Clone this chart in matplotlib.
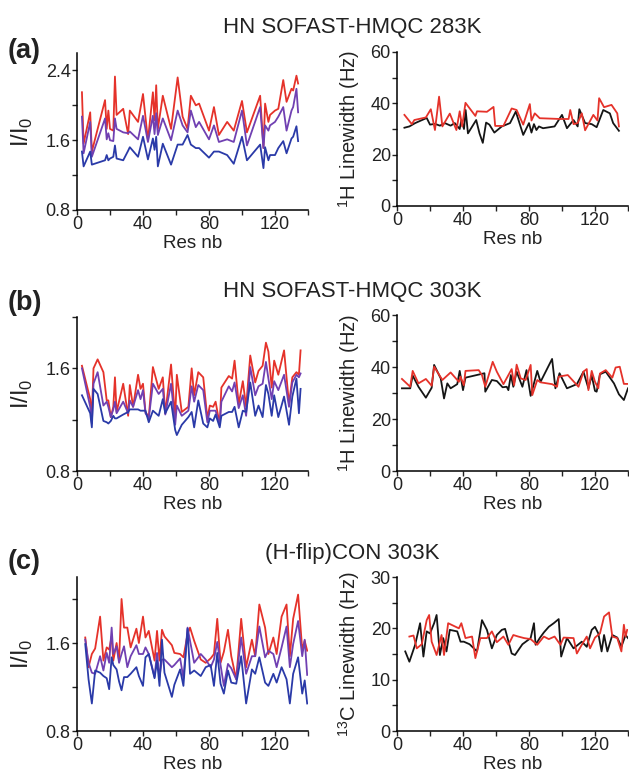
import numpy as np
import matplotlib
matplotlib.use('Agg')
import matplotlib.pyplot as plt
from matplotlib.ticker import FixedLocator

plt.rcParams['font.family'] = ['Liberation Sans', 'DejaVu Sans']
plt.rcParams['mathtext.fontset'] = 'custom'
plt.rcParams['mathtext.rm'] = 'Liberation Sans'

RED = '#e5322a'
PURPLE = '#7040b2'
BLUE = '#2a3aa8'
BLACK = '#151515'

# ---- panel (a): HN SOFAST-HMQC 283K ----
res_a = [3, 4, 8, 9, 17, 18, 19, 20, 22, 23, 24, 28, 31, 32, 37, 40, 43, 46, 47, 48,
         49, 52, 57, 61, 64, 67, 69, 72, 74, 80, 83, 86, 91, 95, 100, 103, 111, 113,
         114, 116, 117, 120, 122, 125, 127, 130, 131, 133, 134]
red_a = [2.15, 1.56, 1.92, 1.47, 2.06, 1.73, 1.94, 1.73, 1.71, 2.33, 1.89, 1.96, 1.67,
         1.94, 1.81, 2.13, 1.60, 2.15, 1.83, 2.23, 1.73, 2.11, 1.73, 2.32, 1.87, 1.73,
         2.11, 2.00, 2.02, 1.71, 1.98, 1.66, 1.81, 1.71, 2.05, 1.69, 2.11, 1.51, 2.02,
         1.81, 1.89, 1.94, 1.96, 2.29, 2.04, 2.19, 2.17, 2.34, 2.25]
purple_a = [1.87, 1.45, 1.81, 1.41, 1.85, 1.61, 1.68, 1.60, 1.59, 1.85, 1.73, 1.69, 1.68,
            1.70, 1.61, 1.88, 1.58, 1.88, 1.67, 1.91, 1.66, 1.85, 1.60, 1.94, 1.77, 1.69,
            1.94, 1.75, 1.81, 1.61, 1.77, 1.58, 1.61, 1.58, 1.94, 1.54, 1.98, 1.51, 1.77,
            1.71, 1.77, 1.81, 1.87, 1.98, 1.71, 1.94, 1.98, 2.19, 1.92]
blue_a = [1.47, 1.30, 1.47, 1.32, 1.37, 1.43, 1.37, 1.39, 1.41, 1.54, 1.39, 1.37, 1.48,
          1.52, 1.41, 1.64, 1.38, 1.62, 1.49, 1.64, 1.30, 1.56, 1.32, 1.55, 1.55, 1.66,
          1.55, 1.51, 1.51, 1.40, 1.47, 1.47, 1.43, 1.33, 1.64, 1.37, 1.55, 1.28, 1.52,
          1.37, 1.43, 1.43, 1.51, 1.59, 1.45, 1.62, 1.64, 1.76, 1.59]

lw_res_a_black = [4.5, 7.5, 11, 18, 20, 23, 26, 29, 32.5, 35, 38, 39, 40.6, 41.6, 43, 48,
                  50, 52, 54, 56, 59, 63.5, 68.5, 72, 76.5, 80, 81.5, 83, 84.5, 86, 88.5,
                  95.5, 100, 103, 107, 109.5, 110.5, 114, 118, 121, 125, 129, 131, 134.5]
lw_a_black = [30.5, 31.0, 32.3, 34.3, 31.7, 32.0, 31.3, 32.3, 31.3, 32.3, 30.0, 33.5, 30.0,
              37.4, 28.3, 33.5, 28.3, 24.6, 32.5, 31.7, 28.6, 31.0, 32.3, 36.8, 27.7, 32.3,
              28.6, 31.9, 29.6, 31.0, 30.3, 31.0, 35.5, 30.3, 33.5, 31.0, 37.7, 32.3, 31.9,
              30.7, 37.4, 36.1, 32.3, 29.3]
lw_res_a_red = [4.5, 9, 10.5, 17.5, 20.5, 23, 25.5, 27.5, 32, 36, 38, 39.5, 41.5, 47.5,
                48.5, 54.5, 58.5, 59.5, 64.5, 69.5, 72.5, 76.5, 80.5, 81.5, 83.5, 86.5,
                99, 104, 105, 107, 109.5, 112, 114, 119, 121.5, 122.5, 125.5, 130, 133.5,
                134.5]
lw_a_red = [35.5, 31.9, 33.5, 34.5, 37.7, 29.6, 42.6, 31.0, 36.0, 29.6, 36.9, 31.0, 40.2,
            35.1, 36.9, 36.7, 38.6, 31.2, 31.2, 38.0, 37.4, 31.7, 39.7, 33.3, 36.1, 34.2,
            33.9, 33.9, 37.4, 31.9, 32.3, 36.1, 29.5, 35.5, 33.3, 42.0, 38.5, 39.4, 36.1,
            31.0]

# ---- panel (b): HN SOFAST-HMQC 303K ----
res_b = [3, 8, 9, 10, 12.5, 16, 18, 19, 20.5, 22, 23, 24, 28, 31, 32, 34, 37, 38.5, 40,
         41.5, 43.5, 46, 49.5, 52, 53.5, 57, 59.5, 60.5, 63.5, 67.5, 69.5, 71, 73.5, 76.5,
         79, 80.5, 82.5, 84, 86.5, 87.5, 92, 94, 95.5, 98, 100.5, 102.5, 105, 108, 110,
         112.5, 114.5, 116, 118, 119.5, 122, 125.5, 128.5, 130.5, 133, 134.5, 135.5]
red_b = [1.62, 1.36, 1.23, 1.60, 1.67, 1.57, 1.35, 1.35, 1.22, 1.30, 1.53, 1.26, 1.48,
         1.23, 1.47, 1.30, 1.55, 1.44, 1.48, 1.26, 1.22, 1.61, 1.44, 1.53, 1.25, 1.63,
         1.21, 1.55, 1.26, 1.30, 1.60, 1.39, 1.57, 1.53, 1.21, 1.31, 1.30, 1.34, 1.16,
         1.45, 1.54, 1.52, 1.66, 1.32, 1.50, 1.30, 1.70, 1.49, 1.58, 1.62, 1.80, 1.73,
         1.45, 1.66, 1.55, 1.74, 1.32, 1.53, 1.57, 1.55, 1.74]
purple_b = [1.60, 1.30, 1.17, 1.48, 1.57, 1.31, 1.34, 1.30, 1.22, 1.28, 1.34, 1.25, 1.34,
            1.25, 1.35, 1.30, 1.43, 1.36, 1.43, 1.25, 1.21, 1.48, 1.40, 1.44, 1.24, 1.48,
            1.16, 1.31, 1.23, 1.27, 1.46, 1.34, 1.47, 1.43, 1.18, 1.27, 1.27, 1.27, 1.16,
            1.34, 1.46, 1.42, 1.49, 1.29, 1.39, 1.23, 1.61, 1.39, 1.46, 1.48, 1.65, 1.52,
            1.36, 1.50, 1.43, 1.55, 1.30, 1.49, 1.55, 1.53, 1.56]
blue_b = [1.39, 1.25, 1.14, 1.44, 1.40, 1.19, 1.18, 1.17, 1.19, 1.23, 1.21, 1.21, 1.24,
          1.26, 1.28, 1.28, 1.28, 1.27, 1.27, 1.27, 1.18, 1.27, 1.23, 1.36, 1.25, 1.34,
          1.12, 1.08, 1.16, 1.22, 1.26, 1.14, 1.35, 1.17, 1.14, 1.21, 1.19, 1.24, 1.14,
          1.23, 1.26, 1.26, 1.30, 1.14, 1.27, 1.26, 1.49, 1.23, 1.31, 1.22, 1.47, 1.40,
          1.23, 1.39, 1.22, 1.38, 1.16, 1.38, 1.52, 1.25, 1.44]

lw_res_b_black = [3, 8, 9.5, 13, 17.5, 21, 22.5, 26.5, 28.5, 30.5, 32.5, 36.5, 38, 40, 41.5,
                  53, 53.5, 57.5, 60.5, 64, 66.5, 67.5, 69, 70.5, 72.5, 76, 78.5, 81, 83,
                  85, 87, 94, 96, 98.5, 103, 109, 113, 116, 118, 120, 121, 123, 126.5,
                  131.5, 134.5, 137.5, 140]
lw_b_black = [31.8, 31.8, 36.7, 32.4, 28.2, 32.0, 40.8, 35.6, 27.9, 33.7, 31.8, 33.4, 38.5,
              31.1, 35.9, 37.6, 30.5, 35.0, 34.6, 32.2, 32.4, 31.1, 36.9, 32.4, 38.2, 32.4,
              38.8, 28.9, 33.7, 38.5, 34.3, 43.1, 31.8, 37.6, 31.8, 33.4, 38.2, 31.8, 36.7,
              30.8, 30.5, 37.2, 38.2, 33.7, 29.5, 27.3, 31.8]
lw_res_b_red = [3, 8, 9.5, 13, 17.5, 21, 22.5, 27.5, 32.5, 37.5, 38.5, 40.5, 41.5, 49.5,
                51.5, 53.5, 58, 60.5, 64.5, 69.5, 71, 72.5, 75, 78, 81, 82, 85, 87, 94, 97,
                98, 103.5, 110, 113, 115, 116, 118, 120, 122, 123, 126.5, 130.5, 132.5,
                135, 137.5, 140]
lw_b_red = [35.4, 32.4, 38.5, 33.7, 35.4, 32.8, 40.1, 35.0, 37.9, 34.3, 36.3, 33.0, 38.5,
            38.8, 36.9, 32.4, 42.0, 38.2, 33.4, 39.2, 33.0, 40.9, 35.6, 35.0, 40.8, 29.2,
            35.0, 34.1, 33.4, 32.4, 36.3, 36.9, 32.4, 38.2, 39.2, 31.1, 38.5, 34.3, 31.8,
            37.5, 38.8, 35.9, 39.8, 40.1, 33.5, 33.5]

# ---- panel (c): (H-flip)CON 303K ----
res_c = [5, 7, 9, 11, 14, 16, 18, 19.5, 21, 22, 24, 25.5, 27, 28.5, 30.5, 32.5, 36, 37.5,
         40, 41.5, 43.5, 47, 48.5, 50, 51.5, 53, 57.5, 59, 62.5, 64.5, 67, 68.5, 71, 75,
         78, 81, 83, 85, 87, 89, 91.5, 93.5, 96.5, 99.5, 102.5, 106, 108, 110.5, 114,
         116, 119, 121, 124, 127, 129, 131, 134, 136.5, 138, 139.5]
red_c = [1.65, 1.38, 1.50, 1.55, 1.84, 1.44, 1.56, 1.54, 1.66, 1.44, 1.60, 1.44, 2.00,
         1.74, 1.74, 1.56, 1.73, 1.60, 1.84, 1.65, 1.71, 1.44, 1.71, 1.44, 1.72, 1.66,
         1.58, 1.51, 1.50, 1.47, 1.68, 1.74, 1.62, 1.45, 1.42, 1.46, 1.50, 1.82, 1.42,
         1.52, 1.72, 1.48, 1.27, 1.82, 1.38, 1.63, 1.48, 1.95, 1.74, 1.50, 1.65, 1.50,
         1.84, 1.95, 1.48, 1.82, 2.04, 1.54, 1.62, 1.53]
purple_c = [1.63, 1.42, 1.33, 1.32, 1.48, 1.35, 1.51, 1.42, 1.74, 1.50, 1.57, 1.42, 1.50,
            1.57, 1.38, 1.48, 1.58, 1.50, 1.50, 1.56, 1.50, 1.29, 1.51, 1.29, 1.45, 1.45,
            1.38, 1.40, 1.46, 1.28, 1.74, 1.62, 1.42, 1.50, 1.45, 1.38, 1.45, 1.61, 1.40,
            1.21, 1.41, 1.37, 1.27, 1.65, 1.32, 1.48, 1.48, 1.75, 1.47, 1.53, 1.50, 1.38,
            1.56, 1.75, 1.38, 1.59, 1.80, 1.48, 1.63, 1.31]
blue_c = [1.59, 1.27, 1.05, 1.35, 1.33, 1.30, 1.28, 1.18, 1.47, 1.40, 1.36, 1.25, 1.17,
          1.29, 1.29, 1.32, 1.38, 1.30, 1.21, 1.47, 1.50, 1.28, 1.44, 1.21, 1.63, 1.33,
          1.11, 1.22, 1.36, 1.21, 1.73, 1.32, 1.35, 1.30, 1.38, 1.40, 1.21, 1.51, 1.23,
          1.14, 1.35, 1.24, 1.23, 1.48, 1.05, 1.36, 1.32, 1.47, 1.24, 1.21, 1.32, 1.24,
          1.38, 1.27, 1.05, 1.32, 1.47, 1.14, 1.26, 1.05]

lw_res_c_black = [5, 7.5, 11, 14, 16, 18, 20, 22.5, 24, 26, 28, 30, 32, 36.5, 38.5, 40.5,
                  44, 48.5, 51.5, 54.5, 57.5, 60.5, 63.5, 65.5, 69.5, 71.5, 76, 81, 83,
                  84, 86.5, 89, 92, 95, 98, 99.5, 103, 107, 112, 115, 118, 120, 122, 124,
                  125.5, 127.5, 130.5, 133.5, 136, 138.5, 140]
lw_c_black = [15.5, 13.5, 16.8, 21.0, 14.5, 19.4, 19.0, 21.0, 22.6, 14.8, 18.1, 15.5, 19.7,
              19.4, 17.4, 17.4, 16.9, 15.5, 21.6, 19.7, 16.1, 18.7, 19.7, 19.9, 15.1, 14.8,
              16.9, 18.1, 21.0, 16.8, 18.1, 19.2, 20.3, 21.0, 21.8, 14.5, 18.1, 16.1, 17.4,
              16.4, 19.7, 20.3, 19.0, 15.5, 18.7, 15.5, 18.7, 18.2, 16.4, 18.7, 18.1]
lw_res_c_red = [7.5, 10, 12, 15, 18, 19.5, 21, 24, 27, 28.5, 31, 37.5, 39, 41.5, 45.5,
                47.5, 50.5, 54.5, 57.5, 60.5, 64.5, 67.5, 70.5, 73.5, 77, 81, 85, 89, 92,
                95.5, 99, 101, 107, 109, 112, 115, 117, 120, 123, 125.5, 128.5, 130.5,
                133.5, 136, 137.5, 138.5, 139.5]
lw_c_red = [18.4, 18.6, 16.1, 16.9, 21.6, 22.6, 17.4, 14.8, 18.7, 14.8, 21.0, 20.0, 21.0,
            18.1, 18.4, 14.2, 18.1, 18.1, 19.4, 17.3, 18.4, 16.8, 18.7, 18.4, 18.1, 17.9,
            16.8, 18.4, 17.9, 18.4, 16.8, 18.2, 18.1, 15.1, 16.8, 18.4, 16.1, 18.2, 19.0,
            22.3, 23.1, 18.4, 18.1, 15.5, 20.7, 18.4, 19.7]

W, H = 629, 775
fig = plt.figure(figsize=(W / 100, H / 100), dpi=100)
TXT = '#222222'


def px_axes(x0, top, x1, bottom):
    return fig.add_axes([x0 / W, 1 - bottom / H, (x1 - x0) / W, (bottom - top) / H])


def style(ax, ylim, major, minor, ylabel, ylabel_x, ylabel_size):
    ax.set_xlim(0, 140)
    ax.set_ylim(*ylim)
    ax.spines['top'].set_visible(False)
    ax.spines['right'].set_visible(False)
    for s in ('left', 'bottom'):
        ax.spines[s].set_linewidth(1.1)
    ax.set_xticks([0, 40, 80, 120])
    ax.xaxis.set_minor_locator(FixedLocator([20, 60, 100, 140]))
    ax.set_yticks(major)
    ax.yaxis.set_minor_locator(FixedLocator(minor))
    ax.tick_params(which='both', direction='out', length=3.5, width=1.0,
                   labelsize=13, pad=1.0, color=TXT, labelcolor=TXT)
    ax.set_xlabel('Res nb', fontsize=13.5, labelpad=1, color=TXT)
    ax.set_ylabel(ylabel, fontsize=ylabel_size, color=TXT)
    ax.yaxis.set_label_coords(ylabel_x, 0.5)


def fmt_left(ax):
    ax.set_yticklabels([f'{t:.1f}' for t in ax.get_yticks()])


lw = 1.3
left_label = r'I/I$_\mathregular{0}$'
h_label = r'$^\mathregular{1}$H Linewidth (Hz)'
c_label = r'$^\mathregular{13}$C Linewidth (Hz)'

# row a
ax = px_axes(77, 53, 308, 210)
ax.plot(res_a, red_a, color=RED, lw=lw)
ax.plot(res_a, purple_a, color=PURPLE, lw=lw)
ax.plot(res_a, blue_a, color=BLUE, lw=lw)
style(ax, (0.8, 2.6), [0.8, 1.6, 2.4], [1.2, 2.0], left_label, -0.18, 17)
fmt_left(ax)

ax = px_axes(397, 52, 628, 206)
ax.plot(lw_res_a_black, lw_a_black, color=BLACK, lw=lw)
ax.plot(lw_res_a_red, lw_a_red, color=RED, lw=lw)
style(ax, (0, 60), [0, 20, 40, 60], [10, 30, 50], h_label, -0.152, 14.5)

# row b
ax = px_axes(77, 317, 308, 471)
ax.plot(res_b, red_b, color=RED, lw=lw)
ax.plot(res_b, purple_b, color=PURPLE, lw=lw)
ax.plot(res_b, blue_b, color=BLUE, lw=lw)
style(ax, (0.8, 2.0), [0.8, 1.6], [1.2, 2.0], left_label, -0.18, 17)
fmt_left(ax)

ax = px_axes(397, 315, 628, 471)
ax.plot(lw_res_b_black, lw_b_black, color=BLACK, lw=lw)
ax.plot(lw_res_b_red, lw_b_red, color=RED, lw=lw)
style(ax, (0, 60), [0, 20, 40, 60], [10, 30, 50], h_label, -0.152, 14.5)

# row c
ax = px_axes(77, 577, 308, 731)
ax.plot(res_c, red_c, color=RED, lw=lw)
ax.plot(res_c, purple_c, color=PURPLE, lw=lw)
ax.plot(res_c, blue_c, color=BLUE, lw=lw)
style(ax, (0.8, 2.2), [0.8, 1.6], [1.2, 2.0], left_label, -0.18, 17)
fmt_left(ax)

ax = px_axes(397, 577, 628, 731)
ax.plot(lw_res_c_black, lw_c_black, color=BLACK, lw=lw)
ax.plot(lw_res_c_red, lw_c_red, color=RED, lw=lw)
style(ax, (0, 30), [0, 10, 20, 30], [5, 15, 25], c_label, -0.152, 14.5)

# titles and panel letters
for y, txt in [(27, 'HN SOFAST-HMQC 283K'), (292, 'HN SOFAST-HMQC 303K'),
               (554, '(H-flip)CON 303K')]:
    fig.text(352 / W, 1 - y / H, txt, ha='center', va='center', fontsize=16,
             color=TXT)
for y, txt in [(51, '(a)'), (303, '(b)'), (562, '(c)')]:
    fig.text(8 / W, 1 - y / H, txt, ha='left', va='center', fontsize=19.5,
             fontweight='bold', color=TXT)

fig.savefig('out.png', dpi=100)
